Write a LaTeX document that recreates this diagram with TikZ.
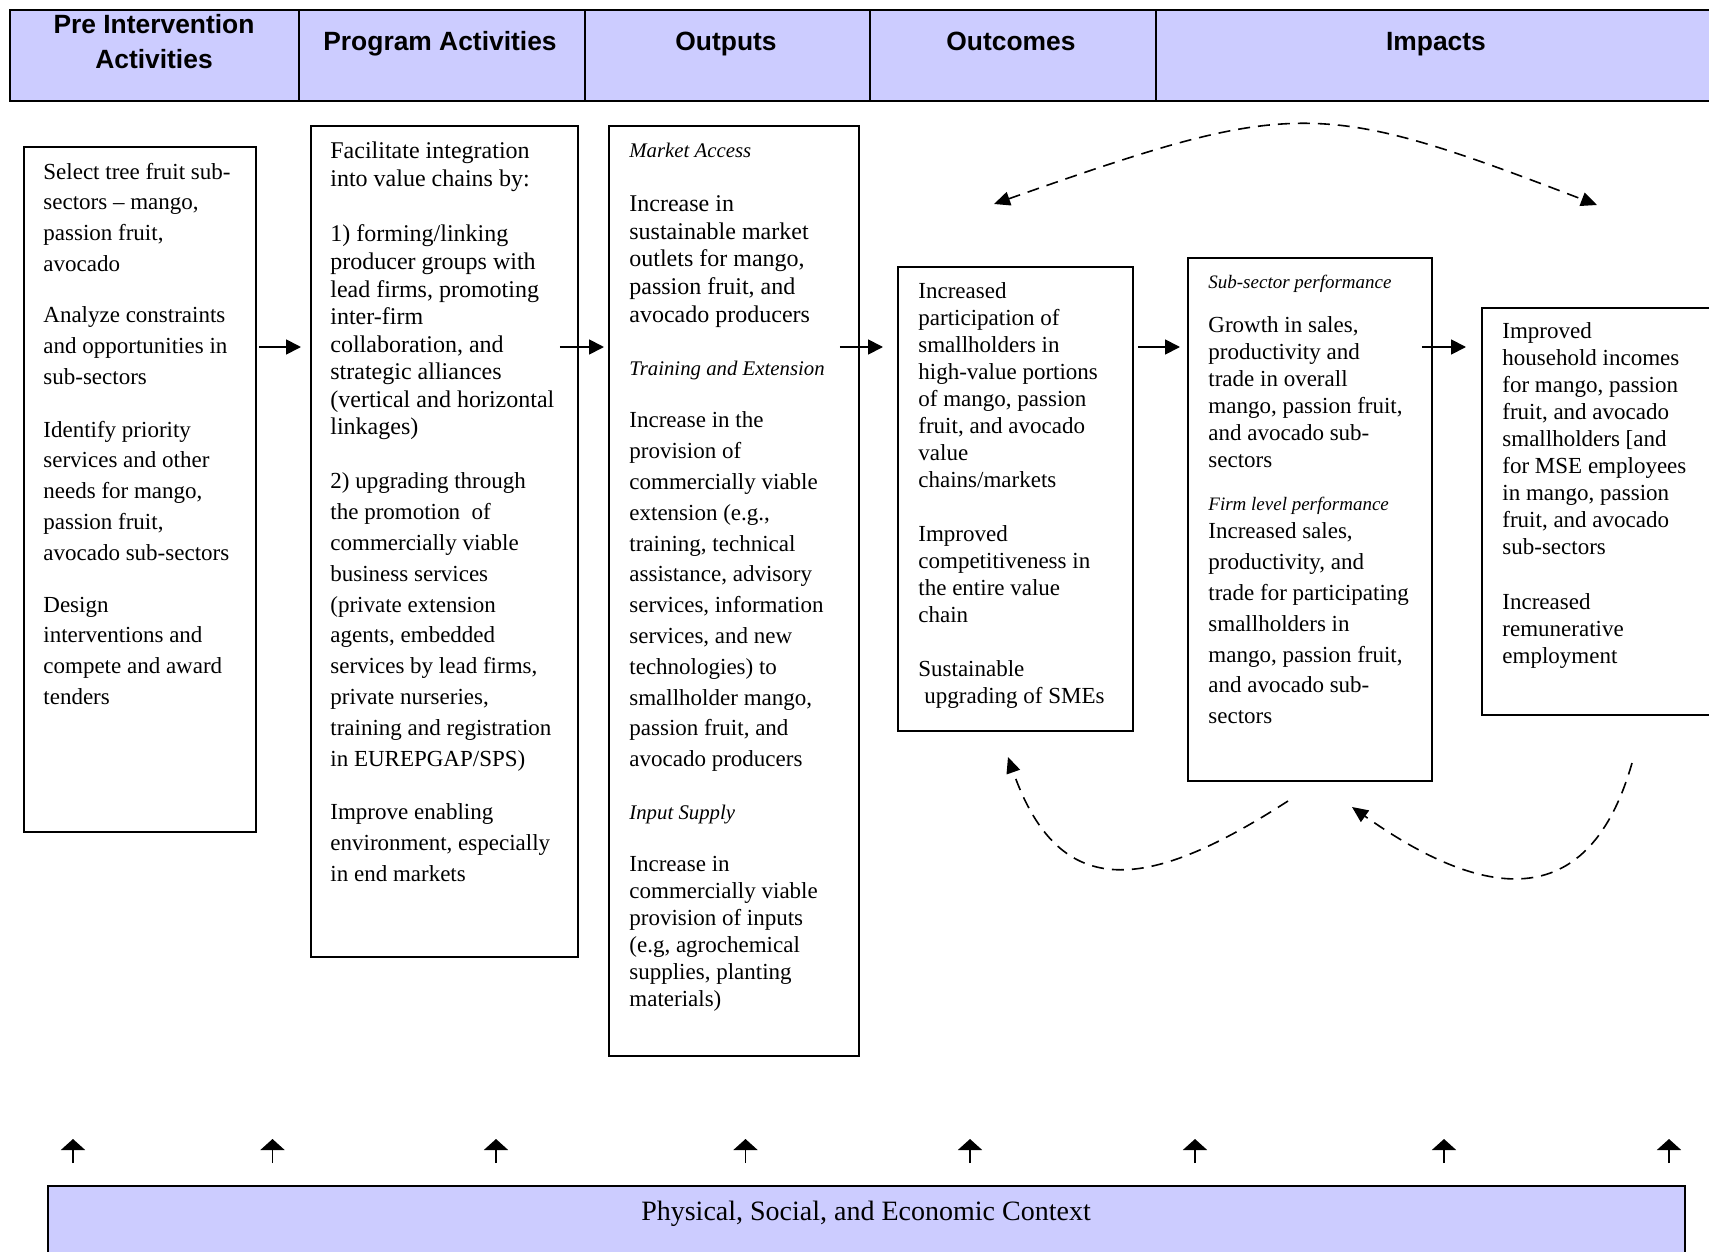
\documentclass[tikz,border=0pt]{standalone}
\usepackage{fontspec}
\setmainfont{Liberation Serif}
\newfontfamily\hfont{Liberation Sans}
\usetikzlibrary{arrows.meta,calc}
\definecolor{hdr}{RGB}{204,204,255}
\begin{document}
\begin{tikzpicture}[x=0.5pt,y=-0.5pt,
 hcell/.style={draw,line width=1pt,fill=hdr,anchor=north west,inner sep=0pt,minimum height=45.5pt},
 htext/.style={font=\hfont\bfseries\fontsize{13.2}{17.5}\selectfont,align=center,inner sep=0pt},
 box/.style={draw,line width=0.9pt,anchor=north west,inner sep=0pt},
 ptxt/.style={anchor=north west,inner sep=0pt,align=left,execute at begin node=\strut},
 fa/.style={ptxt,font=\fontsize{12}{13.8}\selectfont,yshift=-2.25pt},
 fb/.style={ptxt,font=\fontsize{11.5}{15.4}\selectfont,yshift=-3.75pt},
 fc/.style={ptxt,font=\fontsize{11.5}{13.5}\selectfont,yshift=-2.25pt},
 fi/.style={ptxt,font=\itshape\fontsize{10.4}{12}\selectfont,yshift=-1pt},
 fis/.style={ptxt,font=\itshape\fontsize{9.5}{12}\selectfont,yshift=-0.4pt},
 flow/.style={-{Triangle[length=7.5pt,width=7.5pt]},line width=0.9pt},
 loopline/.style={dash pattern=on 6pt off 4pt,line width=0.8pt},
 loopboth/.style={loopline,{Triangle[length=8pt,width=7pt]}-{Triangle[length=8pt,width=7pt]}},
 loopend/.style={loopline,-{Triangle[length=8pt,width=7pt]}},
 uparrow/.style={-{Triangle[length=5.5pt,width=12pt]},line width=0.8pt}
]
\useasboundingbox (0,0) rectangle (1709,1252);
\clip (0,0) rectangle (1709,1252);

% header
\node[hcell,minimum width=144.25pt] (h1) at (9,9) {};
\node[hcell,minimum width=143.25pt] (h2) at (297.5,9) {};
\node[hcell,minimum width=142.5pt] (h3) at (584,9) {};
\node[hcell,minimum width=143pt] (h4) at (869,9) {};
\node[hcell,minimum width=290pt] (h5) at (1155,9) {};
\node[htext] (t1) at (154,41.5) {Pre Intervention\\Activities};
\node[htext,anchor=base] (t2) at (440,50.5) {Program Activities};
\node[htext,anchor=base] (t3) at (726,50.5) {Outputs};
\node[htext,anchor=base] (t4) at (1011,50.5) {Outcomes};
\node[htext,anchor=base] (t5) at (1436,50.5) {Impacts};

% boxes
\node[box,minimum width=116pt,minimum height=342.5pt] (b1) at (23,146) {};
\node[box,minimum width=133.5pt,minimum height=415.5pt] (b2) at (310,125) {};
\node[box,minimum width=125pt,minimum height=465pt] (b3) at (608,125) {};
\node[box,minimum width=117.5pt,minimum height=232pt] (b4) at (897,266) {};
\node[box,minimum width=122pt,minimum height=261.5pt] (b5) at (1187,257) {};
\node[box,minimum width=125pt,minimum height=203.5pt] (b6) at (1481,307) {};

% box 1
\node[fb] (p11) at (43,155) {Select tree fruit sub-\\sectors -- mango,\\passion fruit,\\avocado};
\node[fb] (p12) at (43,299) {Analyze constraints\\and opportunities in\\sub-sectors};
\node[fb] (p13) at (43,413) {Identify priority\\services and other\\needs for mango,\\passion fruit,\\avocado sub-sectors};
\node[fb] (p14) at (43,589) {Design\\interventions and\\compete and award\\tenders};

% box 2
\node[fa] (p21) at (330,137) {Facilitate integration\\into value chains by:};
\node[fa] (p22) at (330,220) {1) forming/linking\\producer groups with\\lead firms, promoting\\inter-firm\\collaboration, and\\strategic alliances\\(vertical and horizontal\\linkages)};
\node[fb] (p23) at (330,465) {2) upgrading through\\the promotion\ \ of\\commercially viable\\business services\\(private extension\\agents, embedded\\services by lead firms,\\private nurseries,\\training and registration\\in EUREPGAP/SPS)};
\node[fb] (p24) at (330,796) {Improve enabling\\environment, especially\\in end markets};

% box 3
\node[fi] (p31) at (629,138) {Market Access};
\node[fa] (p32) at (629,191) {Increase in\\sustainable market\\outlets for mango,\\passion fruit, and\\avocado producers};
\node[fi] (p33) at (629,356) {Training and Extension};
\node[fb] (p34) at (629,404) {Increase in the\\provision of\\commercially viable\\extension (e.g.,\\training, technical\\assistance, advisory\\services, information\\services, and new\\technologies) to\\smallholder mango,\\passion fruit, and\\avocado producers};
\node[fi] (p35) at (629,800) {Input Supply};
\node[fc] (p36) at (629,851) {Increase in\\commercially viable\\provision of inputs\\(e.g, agrochemical\\supplies, planting\\materials)};

% box 4
\node[fc] (p41) at (918,278) {Increased\\participation of\\smallholders in\\high-value portions\\of mango, passion\\fruit, and avocado\\value\\chains/markets};
\node[fc] (p42) at (918,521) {Improved\\competitiveness in\\the entire value\\chain};
\node[fc] (p43) at (918,656) {Sustainable\\\hspace{3pt}upgrading of SMEs};

% box 5
\node[fis] (p51) at (1208,270) {Sub-sector performance};
\node[fc] (p52) at (1208,312) {Growth in sales,\\productivity and\\trade in overall\\mango, passion fruit,\\and avocado sub-\\sectors};
\node[fis] (p53) at (1208,492) {Firm level performance};
\node[fb] (p54) at (1208,515) {Increased sales,\\productivity, and\\trade for participating\\smallholders in\\mango, passion fruit,\\and avocado sub-\\sectors};

% box 6
\node[fc] (p61) at (1502,318) {Improved\\household incomes\\for mango, passion\\fruit, and avocado\\smallholders [and\\for MSE employees\\in mango, passion\\fruit, and avocado\\sub-sectors};
\node[fc] (p62) at (1502,589) {Increased\\remunerative\\employment};

% flow arrows
\coordinate (ay) at (0,347);
\draw[flow] ($(b1.east |- ay)+(2,0)$) -- ($(b2.west |- ay)+(-9,0)$);
\draw[flow] ($(b2.east |- ay)+(-19,0)$) -- ($(b3.west |- ay)+(-4,0)$);
\draw[flow] ($(b3.east |- ay)+(-20,0)$) -- ($(b4.west |- ay)+(-14,0)$);
\draw[flow] ($(b4.east |- ay)+(4,0)$) -- ($(b5.west |- ay)+(-7,0)$);
\draw[flow] ($(b5.east |- ay)+(-11,0)$) -- ($(b6.west |- ay)+(-15,0)$);

% dashed feedback loops
\coordinate (tl) at (994,204);
\coordinate (tr) at (1597,205);
\draw[loopboth] (tl) .. controls (1295,98) and (1318,98) .. (tr);
\coordinate (bls) at (1288,801);
\coordinate (blt) at (1008,757);
\draw[loopend] (bls) .. controls (1150,890) and (1060,905) .. (blt);
\coordinate (brs) at (1632,763);
\coordinate (brt) at (1352,807);
\draw[loopend] (brs) .. controls (1590,910) and (1490,905) .. (brt);

% context band
\node[draw,line width=1pt,fill=hdr,anchor=north west,inner sep=0pt,minimum width=818.5pt,minimum height=50pt] (ctx) at (47,1185) {};
\node[font=\fontsize{14}{16}\selectfont,inner sep=0pt] (ctxt) at (866,1214) {Physical, Social, and Economic Context};
\foreach \x in {73,272.5,496,745.5,970,1195,1444,1669}
  \draw[uparrow] (\x,1163) -- (\x,1139);
\end{tikzpicture}
\end{document}
